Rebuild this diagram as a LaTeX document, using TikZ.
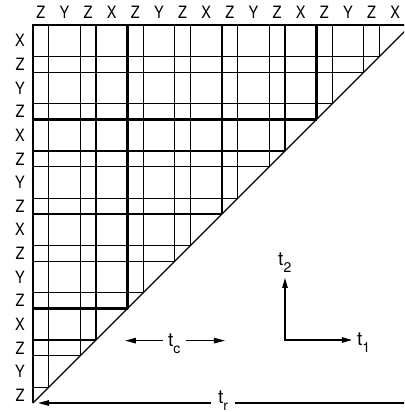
\documentclass[tikz,border=0pt]{standalone}
\usepackage{fontspec}
\setmainfont{TeX Gyre Heros}
\newfontfamily\lettering{TeX Gyre Heros}[FakeStretch=0.85]
\usepackage{tikz}
\usetikzlibrary{arrows.meta}
\newcommand{\tlab}[1]{t\raisebox{-7pt}{\fontsize{14}{14}\selectfont #1}}

\begin{document}
\begin{tikzpicture}[x=15.75pt, y=15.75pt,
    every node/.style={inner sep=0pt},
    letter/.style={font=\lettering\fontsize{17}{17}\selectfont},
    tname/.style={font=\fontsize{19}{19}\selectfont, anchor=base west, inner xsep=5pt},
    gridline/.style={line width=1.2pt},
    heavyline/.style={line width=2.2pt},
    diagline/.style={line width=1.4pt},
    tip/.style={-{Triangle[length=11pt,width=5.5pt]}, line width=1.2pt},
    axes/.style={{Triangle[length=10pt,width=5.5pt]}-{Triangle[length=10pt,width=5.5pt]}, line width=1.2pt}]
  \useasboundingbox (-2.095,-0.571) rectangle (23.556,25.587);
  \clip (-2.095,-0.571) rectangle (23.556,25.587);

  % grid, cut off along the diagonal
  \foreach \p in {1,3,4,7,9,10,13,15,16,19,21,22} {
    \draw[gridline] (\p,\p) -- (\p,24);
    \draw[gridline] (0,\p) -- (\p,\p);
  }
  \foreach \p in {6,12,18} {
    \draw[heavyline] (\p,\p) -- (\p,24);
    \draw[heavyline] (0,\p) -- (\p,\p);
  }
  \draw[heavyline] (0,0) -- (0,24) -- (24,24);
  \draw[diagline] (0,0) -- (24,24);

  % letters along top and left
  \foreach \k in {0,6,12,18}
    \foreach \c/\l [count=\i] in {0.5/Z,2/Y,3.5/Z,5/X} {
      \node[letter] (col-\k-\i) at (\k+\c,24.79) {\l};
      \node[letter] (row-\k-\i) at (-0.825,\k+\c) {\l};
    }

  % t_c
  \node[tname] (tc) at (8.25,3.56) {\tlab{c}};
  \coordinate (tcl) at (5.84,3.96);
  \coordinate (tcr) at (12.19,3.96);
  \draw[tip] (tc.west |- tcl) -- (tcl);
  \draw[tip] (tc.east |- tcr) -- (tcr);

  % t_r
  \node[tname, inner xsep=7pt] (tr) at (11.30,0) {\tlab{r}};
  \coordinate (trl) at (0.32,0);
  \coordinate (trr) at (24.5,0);
  \draw[tip] (tr.west |- trl) -- (trl);
  \draw[line width=1.2pt] (tr.east |- trr) -- (trr);

  % t_1, t_2 axes
  \coordinate (o) at (16,4);
  \coordinate (t2tip) at (16,7.94);
  \node[tname] (t2) at (15.24,8.76) {\tlab{2}};
  \node[tname] (t1) at (20.25,3.68) {\tlab{1}};
  \draw[axes] (t2tip) -- (o) -- (t1.west |- o);
\end{tikzpicture}
\end{document}
